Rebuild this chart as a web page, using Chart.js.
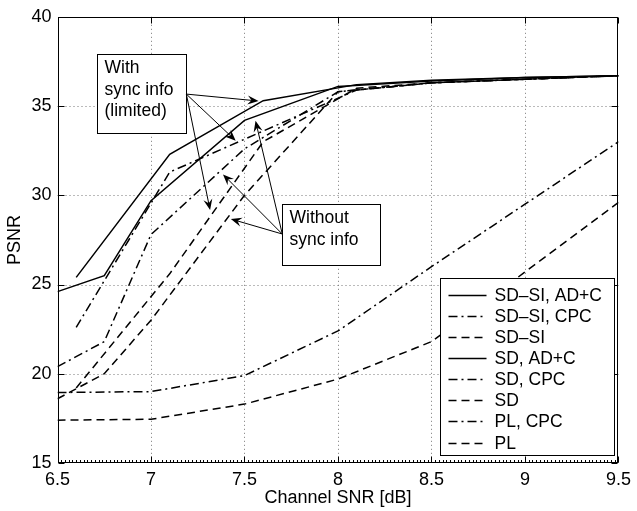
<!DOCTYPE html>
<html>
<head>
<meta charset="utf-8">
<script src="https://cdn.jsdelivr.net/npm/chart.js@4.4.0/dist/chart.umd.min.js"></script>
<style>
  html, body { margin: 0; padding: 0; background: #fff; }
</style>
</head>
<body>
<canvas id="grafico" width="637" height="511"></canvas>
<script>
// SNR points (dB) -- SD-SI curves sit 0.1 dB to the right
const snrSD = [6.5, 6.75, 7, 7.5, 8, 8.5, 9, 9.5];
const snrSI = [6.6, 7.1, 7.6, 8.1, 8.5, 9, 9.5];
const snrPL = [6.5, 7, 7.5, 8, 8.5, 9, 9.5];

// PSNR values
const psnrSiAdc = [25.4, 32.3, 35.3, 36.2, 36.45, 36.6, 36.7];
const psnrSiCpc = [22.6, 31.3, 33.6, 35.9, 36.3, 36.5, 36.7];
const psnrSi    = [19.2, 25.6, 33.0, 36.0, 36.3, 36.5, 36.7];
const psnrSdAdc = [24.6, 25.5, 29.7, 34.2, 36.1, 36.4, 36.6, 36.7];
const psnrSdCpc = [20.4, 21.8, 27.8, 32.6, 35.8, 36.3, 36.5, 36.7];
const psnrSd    = [18.6, 20.0, 23.0, 30.0, 35.8, 36.3, 36.5, 36.7];
const psnrPlCpc = [18.95, 19.0, 19.9, 22.4, 26.0, 29.5, 33.0];
const psnrPl    = [17.4, 17.45, 18.3, 19.7, 21.8, 25.7, 29.6];

const xTicks = [6.5, 7, 7.5, 8, 8.5, 9, 9.5];
const yTicks = [15, 20, 25, 30, 35, 40];

const SOLIDO = [];
const TRACO_PONTO = [9, 4, 2, 4];
const TRACEJADO = [8, 5];

function pontos(xs, ys) {
  return xs.map((x, i) => ({ x: x, y: ys[i] }));
}

function serie(label, xs, ys, dash) {
  return {
    label: label,
    data: pontos(xs, ys),
    borderColor: '#000',
    borderWidth: 1.5,
    borderDash: dash,
    pointRadius: 0,
    fill: false,
    tension: 0
  };
}

// text boxes with arrows, in data units
const notas = [
  {
    linhas: ["With", "sync info", "(limited)"],
    caixa: [6.709, 37.89, 7.189, 33.5],
    origem: [7.189, 35.67],
    alvos: [[7.575, 35.28], [7.453, 33.06], [7.316, 29.17]]
  },
  {
    linhas: ["Without", "sync info"],
    caixa: [7.702, 29.5, 8.225, 26.11],
    origem: [7.702, 27.83],
    alvos: [[7.559, 34.17], [7.385, 31.17], [7.427, 28.67]]
  }
];

const FONTE = "'Liberation Sans', Arial, Helvetica, sans-serif";

function seta(ctx, x0, y0, x1, y1) {
  const ang = Math.atan2(y1 - y0, x1 - x0);
  const comp = 11, larg = 4.5;
  ctx.beginPath();
  ctx.moveTo(x0, y0);
  ctx.lineTo(x1 - Math.cos(ang) * 6, y1 - Math.sin(ang) * 6);
  ctx.stroke();
  ctx.save();
  ctx.translate(x1, y1);
  ctx.rotate(ang);
  ctx.beginPath();
  ctx.moveTo(0, 0);
  ctx.lineTo(-comp, -larg);
  ctx.lineTo(-comp + 4, 0);
  ctx.lineTo(-comp, larg);
  ctx.closePath();
  ctx.fill();
  ctx.restore();
}

const molduraPlugin = {
  id: 'moldura',
  beforeDatasetsDraw(chart) {
    const { ctx, chartArea: a, scales: { x, y } } = chart;
    ctx.save();
    ctx.strokeStyle = '#777';
    ctx.lineWidth = 1;
    ctx.setLineDash([1, 3]);
    xTicks.slice(1, -1).forEach(v => {
      const px = Math.round(x.getPixelForValue(v)) + 0.5;
      ctx.beginPath(); ctx.moveTo(px, a.top); ctx.lineTo(px, a.bottom); ctx.stroke();
    });
    yTicks.slice(1, -1).forEach(v => {
      const py = Math.round(y.getPixelForValue(v)) + 0.5;
      ctx.beginPath(); ctx.moveTo(a.left, py); ctx.lineTo(a.right, py); ctx.stroke();
    });
    ctx.restore();
  },
  afterDatasetsDraw(chart) {
    const { ctx, chartArea: a, scales: { x, y } } = chart;
    ctx.save();
    ctx.strokeStyle = '#000';
    ctx.fillStyle = '#000';
    ctx.lineWidth = 1;
    ctx.setLineDash([]);

    // box
    const L = Math.round(a.left) + 0.5, R = Math.round(a.right) - 0.5;
    const T = Math.round(a.top) + 0.5, B = Math.round(a.bottom) - 0.5;
    ctx.strokeRect(L, T, R - L, B - T);

    // inward ticks
    xTicks.forEach(v => {
      const px = Math.round(x.getPixelForValue(v)) + 0.5;
      ctx.beginPath();
      ctx.moveTo(px, B); ctx.lineTo(px, B - 6);
      ctx.moveTo(px, T); ctx.lineTo(px, T + 6);
      ctx.stroke();
    });
    yTicks.forEach(v => {
      const py = Math.round(y.getPixelForValue(v)) + 0.5;
      ctx.beginPath();
      ctx.moveTo(L, py); ctx.lineTo(L + 6, py);
      ctx.moveTo(R, py); ctx.lineTo(R - 6, py);
      ctx.stroke();
    });
    // minor ticks on the bottom axis
    ctx.beginPath();
    for (let v = 6.5; v <= 9.5; v += 0.02) {
      const px = Math.round(x.getPixelForValue(v)) + 0.5;
      ctx.moveTo(px, B); ctx.lineTo(px, B - 2.5);
    }
    ctx.stroke();

    // annotations
    ctx.font = '17.5px ' + FONTE;
    ctx.textBaseline = 'middle';
    ctx.textAlign = 'left';
    notas.forEach(n => {
      const bx0 = Math.round(x.getPixelForValue(n.caixa[0])) + 0.5;
      const by0 = Math.round(y.getPixelForValue(n.caixa[1])) + 0.5;
      const bx1 = Math.round(x.getPixelForValue(n.caixa[2])) + 0.5;
      const by1 = Math.round(y.getPixelForValue(n.caixa[3])) + 0.5;
      ctx.fillStyle = '#fff';
      ctx.fillRect(bx0, by0, bx1 - bx0, by1 - by0);
      ctx.strokeRect(bx0, by0, bx1 - bx0, by1 - by0);
      ctx.fillStyle = '#000';
      n.linhas.forEach((t, i) => ctx.fillText(t, bx0 + 7, by0 + 14 + i * 21.5));
      const ox = x.getPixelForValue(n.origem[0]), oy = y.getPixelForValue(n.origem[1]);
      n.alvos.forEach(p => seta(ctx, ox, oy, x.getPixelForValue(p[0]), y.getPixelForValue(p[1])));
    });

    // legend
    const lw = 174, lh = 177;
    const lx = R - 3 - lw, ly = B - 7 - lh;
    ctx.fillStyle = '#fff';
    ctx.fillRect(lx, ly, lw, lh);
    ctx.strokeRect(lx, ly, lw, lh);
    ctx.fillStyle = '#000';
    chart.data.datasets.forEach((ds, i) => {
      const cy = Math.round(ly + 16 + i * 21.15) + 0.5;
      ctx.save();
      ctx.lineWidth = ds.borderWidth;
      ctx.setLineDash(ds.borderDash);
      ctx.beginPath(); ctx.moveTo(lx + 8, cy); ctx.lineTo(lx + 46, cy); ctx.stroke();
      ctx.restore();
      ctx.fillText(ds.label, lx + 54, cy + 1);
    });
    ctx.restore();
  }
};

new Chart(document.getElementById('grafico'), {
  type: 'line',
  data: {
    datasets: [
      serie('SD\u2013SI, AD+C', snrSI, psnrSiAdc, SOLIDO),
      serie('SD\u2013SI, CPC', snrSI, psnrSiCpc, TRACO_PONTO),
      serie('SD\u2013SI', snrSI, psnrSi, TRACEJADO),
      serie('SD, AD+C', snrSD, psnrSdAdc, SOLIDO),
      serie('SD, CPC', snrSD, psnrSdCpc, TRACO_PONTO),
      serie('SD', snrSD, psnrSd, TRACEJADO),
      serie('PL, CPC', snrPL, psnrPlCpc, TRACO_PONTO),
      serie('PL', snrPL, psnrPl, TRACEJADO)
    ]
  },
  options: {
    responsive: false,
    animation: false,
    layout: { padding: { left: 0, right: 11, top: 13, bottom: 0 } },
    plugins: { legend: { display: false }, tooltip: { enabled: false } },
    scales: {
      x: {
        type: 'linear',
        min: 6.5,
        max: 9.5,
        afterBuildTicks: s => { s.ticks = xTicks.map(v => ({ value: v })); },
        afterFit: s => { s.height = 48; },
        grid: { display: false, drawTicks: false },
        border: { display: false },
        ticks: { color: '#000', padding: 6, maxRotation: 0, font: { size: 18, family: FONTE }, callback: v => String(v) },
        title: { display: true, text: 'Channel SNR [dB]', color: '#000', font: { size: 18, family: FONTE }, padding: { top: 0, bottom: 2 } }
      },
      y: {
        min: 15,
        max: 40,
        afterBuildTicks: s => { s.ticks = yTicks.map(v => ({ value: v })); },
        afterFit: s => { s.width = 57.5; },
        grid: { display: false, drawTicks: false },
        border: { display: false },
        ticks: { color: '#000', padding: 6, font: { size: 18, family: FONTE }, callback: v => String(v) },
        title: { display: true, text: 'PSNR', color: '#000', font: { size: 18, family: FONTE }, padding: { top: 4, bottom: 0 } }
      }
    }
  },
  plugins: [molduraPlugin]
});
</script>
</body>
</html>
